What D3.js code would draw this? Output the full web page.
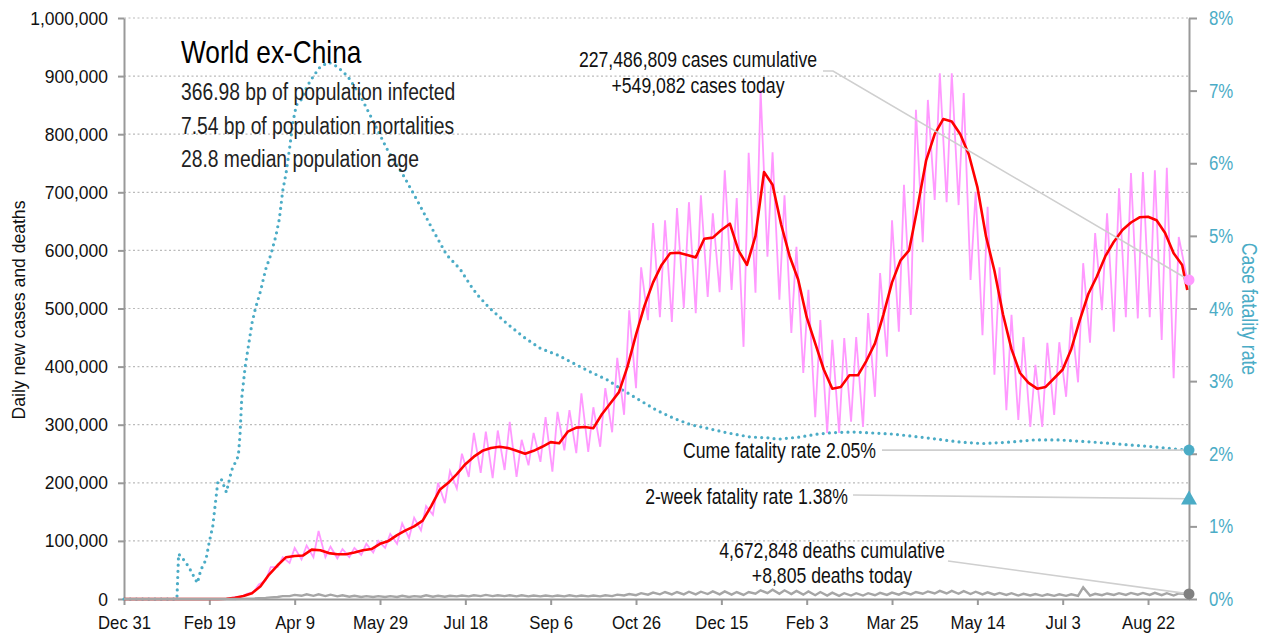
<html>
<head>
<meta charset="utf-8">
<script src="https://cdn.jsdelivr.net/npm/d3@7"></script>
<style>
  body { margin: 0; background: #fff; }
  .narrow { font-family: "Liberation Sans", Arial, sans-serif; }
  .reg { font-family: "Liberation Sans", Arial, sans-serif; }
</style>
</head>
<body>
<svg width="1268" height="641"></svg>
<script>

// day 0 = Dec 31 2019, last day shown = 624
const startDate = new Date(2019, 11, 31),
  endDay = 624,
  lastDay = 623;

// x tick days (every 50 days)
const xTickDays = [0, 50, 100, 150, 200, 250, 300, 350, 400, 450, 500, 550, 600];
const yLeftTicks = [0, 100000, 200000, 300000, 400000, 500000, 600000, 700000, 800000, 900000, 1000000];
const yRightTicks = [0, 1, 2, 3, 4, 5, 6, 7, 8];

// 7-day average of new cases, one value every 5 days from day 0
const redStep = 5;
const redVals = [
  0, 0, 0, 0, 0, 0, 0, 0, 0, 0, 0, 0,
  500, 2000, 5000, 10000, 22000, 42000, 58000, 72000, 74000, 75000,
  85000, 84000, 79000, 77000, 77000, 80000, 84000, 86000, 95000, 100000,
  110000, 118000, 125000, 135000, 160000, 188000, 200000, 215000, 232000, 245000,
  255000, 260000, 262000, 260000, 255000, 250000, 255000, 262000, 270000, 268000,
  288000, 295000, 296000, 294000, 318000, 337000, 356000, 400000, 455000, 505000,
  545000, 575000, 595000, 596000, 592000, 588000, 620000, 622000, 635000, 646000,
  600000, 575000, 625000, 735000, 713000, 645000, 590000, 550000, 485000, 440000,
  395000, 362000, 365000, 385000, 385000, 410000, 440000, 490000, 545000, 583000,
  600000, 675000, 755000, 800000, 826000, 822000, 800000, 765000, 709000, 625000,
  565000, 490000, 430000, 389000, 372000, 362000, 365000, 380000, 395000, 430000,
  480000, 525000, 555000, 590000, 615000, 635000, 648000, 657000, 658000, 652000,
  630000, 595000, 575000
];
const redLast = 532000;

// daily new cases: weekly low (Mondays, from day 62) and weekly high (3 days later)
const weekStart = 62;
const pinkLow = [
  1000, 4000, 12000, 32000, 55000, 62000, 68000, 72000, 72000, 70000,
  72000, 76000, 80000, 88000, 95000, 105000, 118000, 145000, 165000, 190000,
  210000, 217000, 208000, 222000, 210000, 230000, 236000, 219000, 256000, 251000,
  253000, 262000, 287000, 317000, 363000, 480000, 485000, 477000, 501000, 492000,
  520000, 528000, 532000, 434000, 527000, 589000, 515000, 458000, 389000, 313000,
  286000, 286000, 305000, 296000, 348000, 417000, 460000, 489000, 614000, 687000,
  683000, 678000, 549000, 454000, 386000, 325000, 308000, 296000, 296000, 317000,
  348000, 373000, 441000, 497000, 460000, 485000, 483000, 485000, 446000, 380000
];
const pinkHigh = [
  3000, 9000, 25000, 55000, 72000, 88000, 92000, 117000, 90000, 86000,
  88000, 95000, 100000, 112000, 130000, 140000, 160000, 200000, 220000, 250000,
  286000, 288000, 290000, 305000, 274000, 286000, 313000, 322000, 325000, 354000,
  330000, 363000, 415000, 497000, 571000, 647000, 652000, 673000, 683000, 695000,
  664000, 738000, 690000, 768000, 876000, 769000, 695000, 606000, 532000, 480000,
  446000, 449000, 451000, 492000, 561000, 652000, 713000, 842000, 859000, 905000,
  905000, 871000, 700000, 675000, 571000, 489000, 451000, 403000, 441000, 442000,
  485000, 578000, 630000, 664000, 707000, 733000, 735000, 738000, 742000, 623000
];
const casesToday = 549082;

// daily deaths, same weekly layout
const deathsLow = [
  50, 200, 700, 2000, 3500, 5000, 5500, 5500, 5000, 4500,
  4000, 3500, 3500, 3500, 3500, 3500, 4000, 4000, 4000, 4500,
  4500, 5000, 5000, 5000, 4500, 4500, 4500, 4500, 4500, 4500,
  4500, 4500, 5000, 6000, 6500, 7500, 8000, 8000, 8000, 8000,
  8500, 8000, 7500, 7000, 9000, 10000, 9000, 8500, 7500, 6500,
  6000, 5500, 6000, 6000, 6500, 7000, 7500, 8000, 9000, 9500,
  9500, 9000, 8500, 8000, 7500, 7000, 6000, 6000, 5500, 5500,
  5500, 5500, 6000, 6500, 7000, 7000, 7500, 7000, 6500, 6000
];
const deathsHigh = [
  100, 400, 1200, 2800, 5000, 7000, 8000, 8000, 7500, 6500,
  5500, 5000, 5000, 5000, 5500, 5000, 6500, 5500, 5500, 6000,
  6500, 7000, 6500, 6500, 6500, 6000, 6000, 6000, 6500, 6000,
  6000, 6500, 7500, 8500, 10000, 11000, 12000, 12000, 12500, 12500,
  13000, 13000, 12000, 12000, 15000, 16000, 15000, 14000, 13000, 12000,
  11000, 10000, 10000, 10000, 10500, 11000, 11500, 12000, 13000, 14000,
  14000, 13500, 12500, 11500, 10500, 10000, 9000, 8500, 8000, 8000,
  8000, 20000, 9000, 9500, 10000, 10500, 10500, 10500, 10000, 9500
];
const deathsToday = 8805;

// cumulative case fatality rate (%), right axis
const cfrDays = [0, 31, 32, 35, 38, 40, 43, 45, 48, 50, 52, 55, 57, 60, 63, 67, 68, 69, 71, 73,
  75, 77, 80, 83, 86, 89, 91, 93, 95, 97, 99, 101, 104, 107, 111, 115, 120, 125, 131, 138,
  146, 154, 164, 172, 181, 189, 197, 203, 207, 214, 224, 234, 244, 254, 263, 273, 283, 292, 302, 312,
  322, 332, 342, 353, 367, 377, 383, 396, 406, 415, 427, 435, 451, 470, 490, 503, 519, 533, 548, 568,
  601, 623];
const cfrVals = [0, 0, 0.62, 0.54, 0.44, 0.35, 0.22, 0.40, 0.54, 0.79, 1.0, 1.62, 1.65, 1.47, 1.77, 1.97, 2.27, 2.77, 3.2, 3.5,
  3.8, 4.0, 4.24, 4.54, 4.74, 5.0, 5.23, 5.62, 5.87, 6.2, 6.57, 6.8, 6.88, 7.05, 7.2, 7.33, 7.39, 7.33, 7.2, 6.95,
  6.58, 6.2, 5.82, 5.48, 5.08, 4.74, 4.54, 4.32, 4.19, 4.01, 3.80, 3.61, 3.45, 3.36, 3.25, 3.13, 3.02, 2.88, 2.74, 2.60,
  2.49, 2.40, 2.35, 2.29, 2.23, 2.22, 2.20, 2.23, 2.27, 2.29, 2.30, 2.29, 2.27, 2.22, 2.16, 2.14, 2.16, 2.19, 2.19, 2.16,
  2.10, 2.05];
const cfrCume = 2.05, cfr2Week = 1.38;

const teal = "#4BACC6", pink = "#FF99FF", red = "#FF0000", grey = "#A6A6A6", axisGrey = "#999";

const day = d => d3.timeDay.offset(startDate, d);

const x = d3.scaleTime().domain([startDate, day(endDay)]).range([124, 1189]);
const yL = d3.scaleLinear().domain([0, 1000000]).range([599, 18]);
const yR = d3.scaleLinear().domain([0, 8]).range([599, 18]);

// build series
const redData = redVals.map((v, i) => [i * redStep, v]).concat([[lastDay, redLast]]);
function weekly(lo, hi, last) {
  let pts = [[0, 0], [weekStart - 1, 0]];
  lo.forEach((v, k) => {
    pts.push([weekStart + 7 * k, v]);
    pts.push([weekStart + 7 * k + 3, hi[k]]);
  });
  pts.push([lastDay, last]);
  return pts;
}
const pinkData = weekly(pinkLow, pinkHigh, casesToday);
const deathData = weekly(deathsLow, deathsHigh, deathsToday);
const cfrData = cfrDays.map((d, i) => [d, cfrVals[i]]);

// no narrow font installed: squeeze Liberation Sans to a condensed width
function condense(sel, k) {
  sel.each(function() {
    const w = this.getComputedTextLength();
    d3.select(this).attr("textLength", w * k).attr("lengthAdjust", "spacingAndGlyphs");
  });
}

const svg = d3.select("svg");

// gridlines
svg.append("g")
  .selectAll("line")
  .data(yLeftTicks.filter(d => d > 0))
  .join("line")
  .attr("x1", 124).attr("x2", 1189)
  .attr("y1", d => yL(d)).attr("y2", d => yL(d))
  .attr("stroke", "#bbb").attr("stroke-width", 1.2)
  .attr("stroke-dasharray", "2,2.5");

// left axis
const gL = svg.append("g").attr("transform", "translate(124,0)")
  .call(d3.axisLeft(yL).tickValues(yLeftTicks).tickFormat(d3.format(",")).tickSize(6).tickSizeOuter(0).tickPadding(10));
// right axis
const gR = svg.append("g").attr("transform", "translate(1189,0)")
  .call(d3.axisRight(yR).tickValues(yRightTicks).tickFormat(d => d + "%").tickSize(8).tickSizeOuter(0).tickPadding(12));
// bottom axis
const gB = svg.append("g").attr("transform", "translate(0,599)")
  .call(d3.axisBottom(x).tickValues(xTickDays.map(day)).tickFormat(d3.timeFormat("%b %-d")).tickSize(6).tickSizeOuter(0).tickPadding(11));

[gL, gR, gB].forEach(g => {
  g.select(".domain").attr("stroke", axisGrey).attr("stroke-width", 2);
  g.selectAll(".tick line").attr("stroke", axisGrey).attr("stroke-width", 2);
});
gL.selectAll("text").attr("class", "reg").attr("font-size", 19).attr("fill", "#111").call(condense, 0.92);
gB.selectAll("text").attr("class", "reg").attr("font-size", 19).attr("fill", "#111").call(condense, 0.88);
gR.selectAll("text").attr("class", "narrow").attr("font-size", 20.5).attr("fill", teal).call(condense, 0.82);

// axis titles
svg.append("text").attr("class", "reg")
  .attr("transform", "translate(25,310) rotate(-90)")
  .attr("text-anchor", "middle").attr("font-size", 18.5).attr("fill", "#111")
  .text("Daily new cases and deaths")
  .call(condense, 0.95);
svg.append("text").attr("class", "narrow")
  .attr("transform", "translate(1242,309) rotate(90)")
  .attr("text-anchor", "middle").attr("font-size", 21.5).attr("fill", teal)
  .text("Case fatality rate")
  .call(condense, 0.82);

const line = yScale => d3.line().x(d => x(day(d[0]))).y(d => yScale(d[1]));

// CFR dotted
svg.append("path")
  .attr("d", line(yR)(cfrData))
  .attr("fill", "none").attr("stroke", teal).attr("stroke-width", 3.2)
  .attr("stroke-linecap", "round").attr("stroke-dasharray", "0,6.2");

// daily cases
svg.append("path")
  .attr("d", line(yL)(pinkData))
  .attr("fill", "none").attr("stroke", pink).attr("stroke-width", 1.8);

// 7 day average
svg.append("path")
  .attr("d", line(yL)(redData))
  .attr("fill", "none").attr("stroke", red).attr("stroke-width", 2.6)
  .attr("stroke-linejoin", "round");

// daily deaths
svg.append("path")
  .attr("d", line(yL)(deathData))
  .attr("fill", "none").attr("stroke", grey).attr("stroke-width", 2.4);

// title block
svg.append("text").attr("class", "narrow")
  .attr("x", 181).attr("y", 63).attr("font-size", 32).attr("fill", "#000")
  .text("World ex-China")
  .call(condense, 0.82);
const stats = ["366.98 bp of population infected", "7.54 bp of population mortalities", "28.8 median population age"];
svg.append("g").selectAll("text")
  .data(stats)
  .join("text").attr("class", "narrow")
  .attr("x", 181).attr("y", (d, i) => 100 + i * 33.5)
  .attr("font-size", 23.5).attr("fill", "#222")
  .text(d => d)
  .call(condense, 0.82);

// markers and callouts
const xEnd = x(day(endDay));
const callLine = "#cfcfcf";

svg.append("polyline")
  .attr("points", [[823, 71], [833, 71], [xEnd, yL(casesToday)]].join(" "))
  .attr("fill", "none").attr("stroke", callLine).attr("stroke-width", 1.6);
svg.append("line")
  .attr("x1", 882).attr("y1", yR(cfrCume)).attr("x2", xEnd).attr("y2", yR(cfrCume))
  .attr("stroke", callLine).attr("stroke-width", 1.6);
svg.append("line")
  .attr("x1", 853).attr("y1", 495).attr("x2", xEnd).attr("y2", yR(cfr2Week))
  .attr("stroke", callLine).attr("stroke-width", 1.6);
svg.append("polyline")
  .attr("points", [[948, 561], [xEnd, yL(deathsToday)]].join(" "))
  .attr("fill", "none").attr("stroke", callLine).attr("stroke-width", 1.6);

svg.append("circle").attr("cx", xEnd).attr("cy", yL(casesToday)).attr("r", 5.5).attr("fill", pink);
svg.append("circle").attr("cx", xEnd).attr("cy", yR(cfrCume)).attr("r", 5.5).attr("fill", teal);
svg.append("path")
  .attr("d", d3.symbol(d3.symbolTriangle, 110)())
  .attr("transform", `translate(${xEnd},${yR(cfr2Week) + 1})`)
  .attr("fill", teal);
svg.append("circle").attr("cx", xEnd).attr("cy", yL(deathsToday)).attr("r", 5.5).attr("fill", "#808080");

const callouts = [
  ["227,486,809 cases cumulative", 698, 67, "middle"],
  ["+549,082 cases today", 698, 93, "middle"],
  ["Cume fatality rate 2.05%", 876, 458, "end"],
  ["2-week fatality rate 1.38%", 848, 504, "end"],
  ["4,672,848 deaths cumulative", 832, 558, "middle"],
  ["+8,805 deaths today", 832, 583, "middle"]
];
svg.append("g").selectAll("text")
  .data(callouts)
  .join("text").attr("class", "narrow")
  .attr("x", d => d[1]).attr("y", d => d[2])
  .attr("text-anchor", d => d[3])
  .attr("font-size", 21.5).attr("fill", "#111")
  .text(d => d[0])
  .call(condense, 0.82);

</script>
</body>
</html>
